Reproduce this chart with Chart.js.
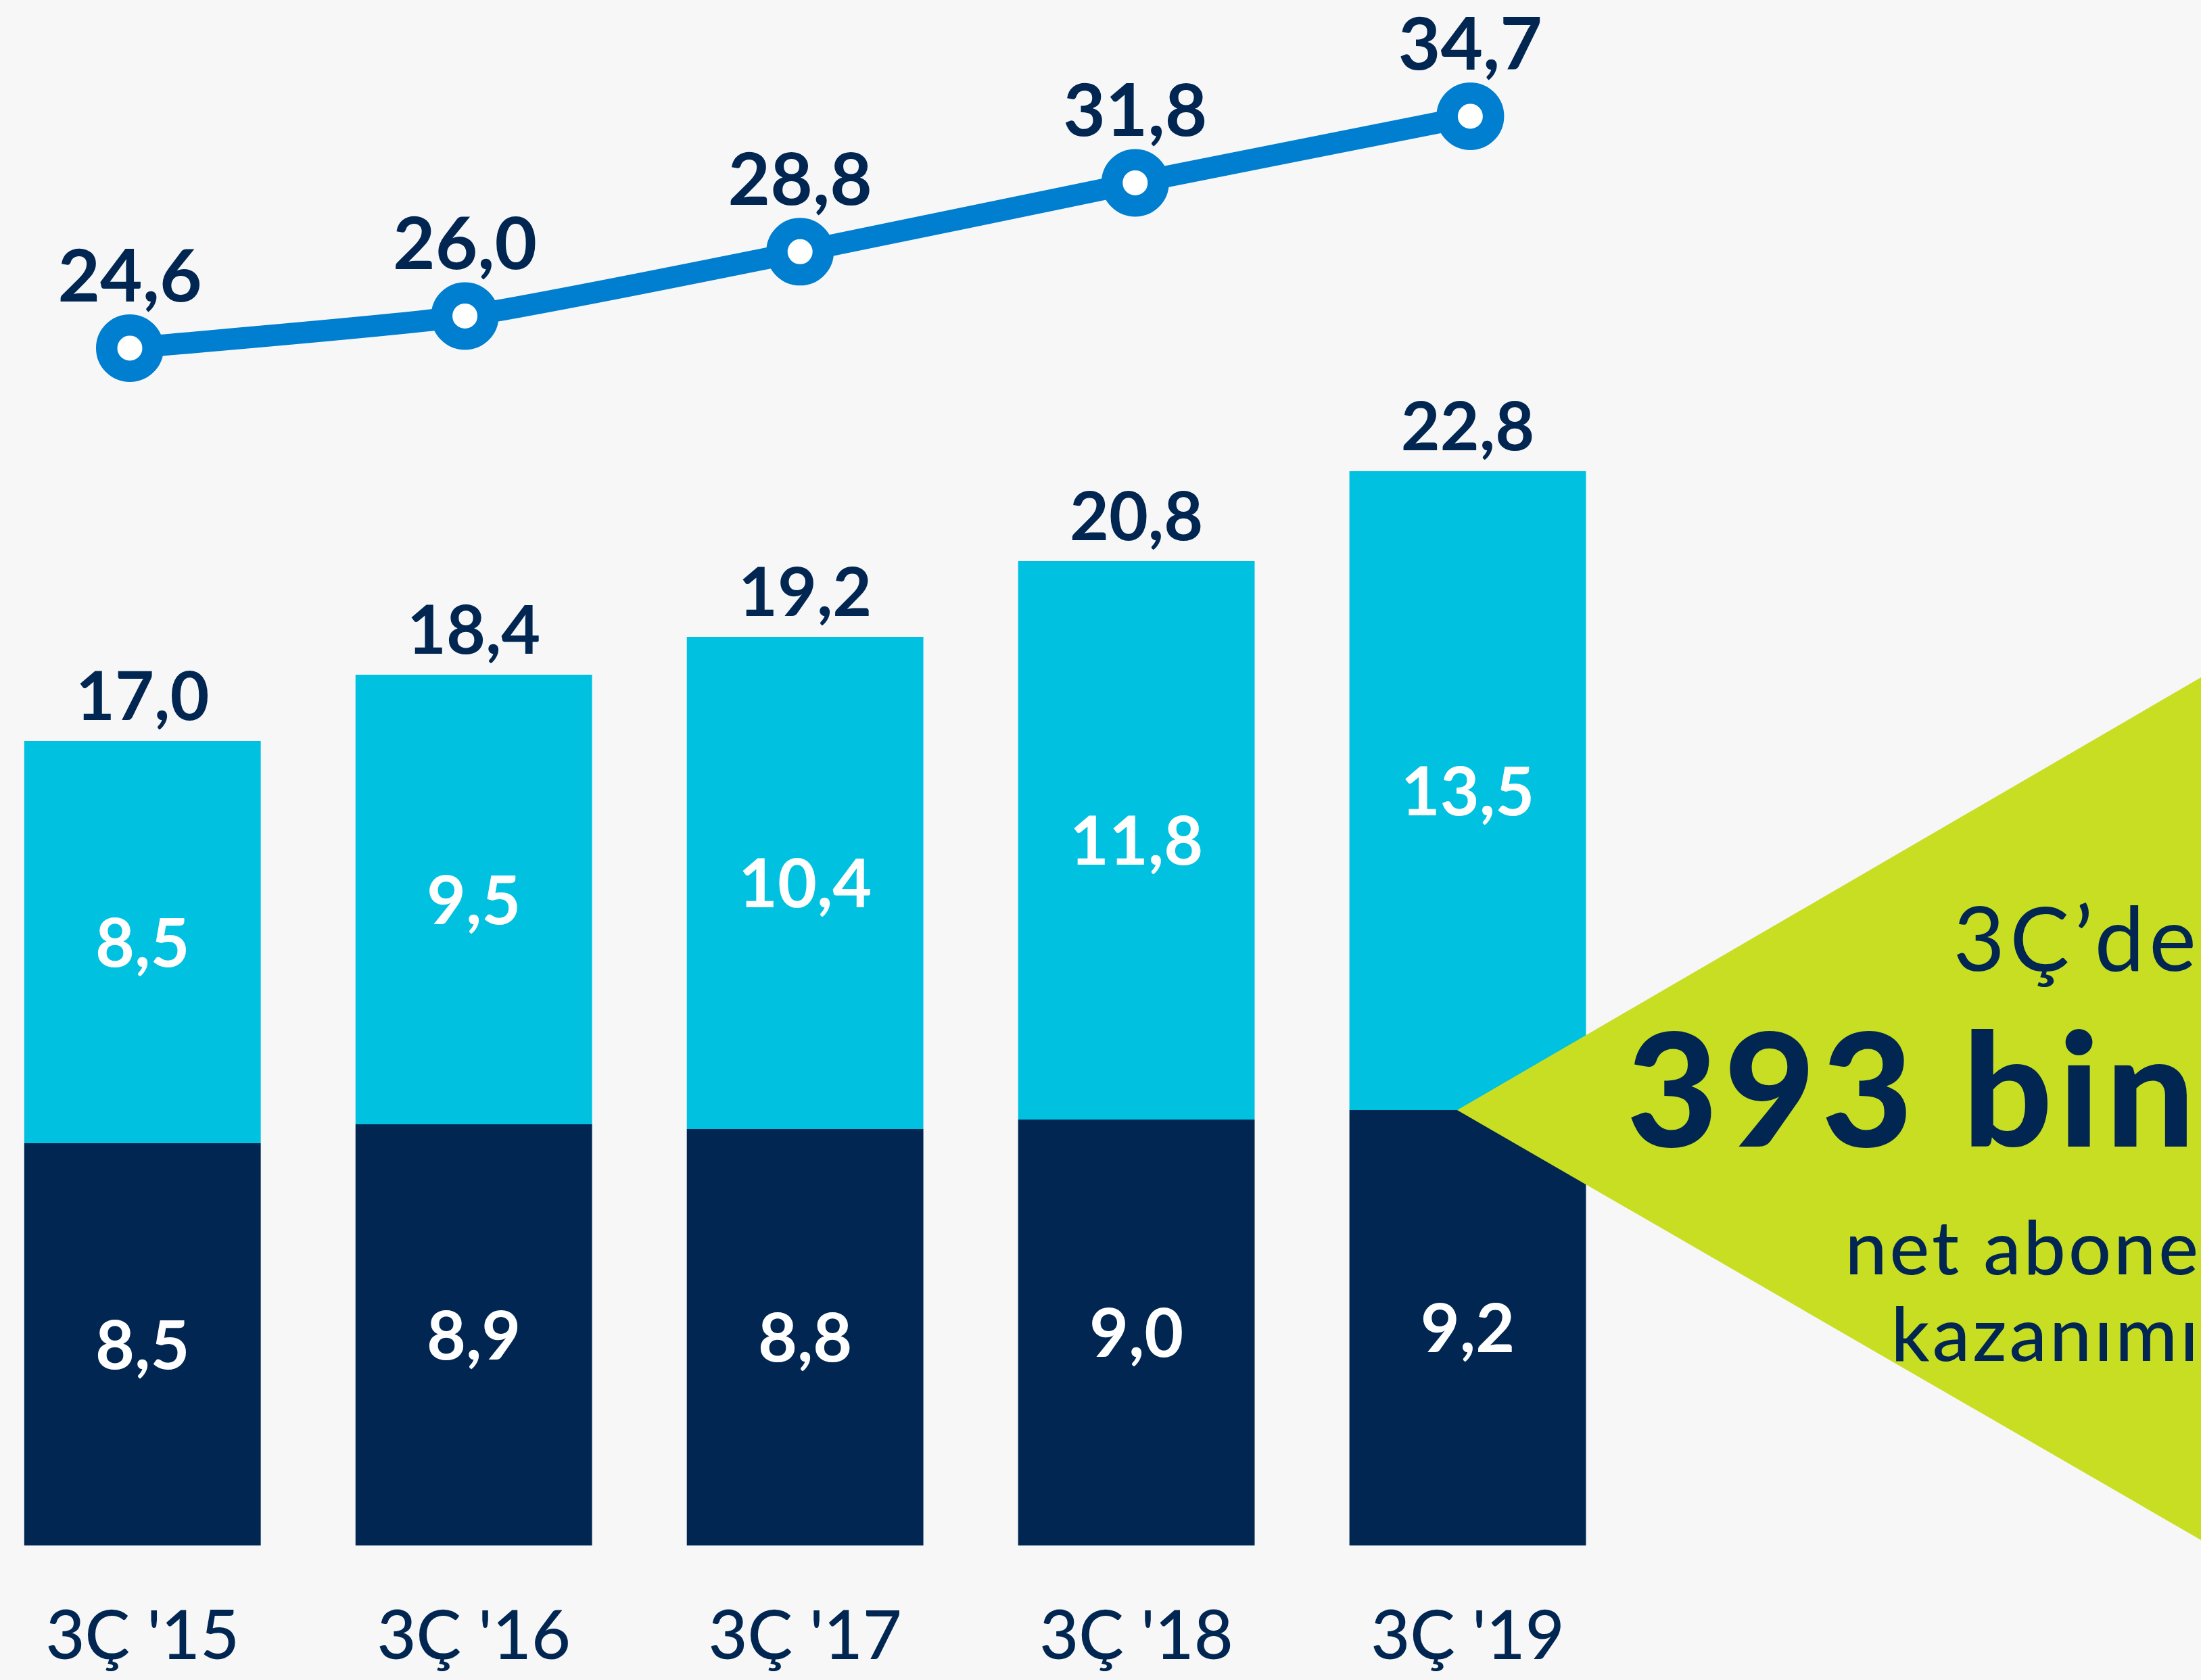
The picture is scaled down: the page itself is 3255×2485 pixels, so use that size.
<!DOCTYPE html>
<html lang="tr">
<head>
<meta charset="utf-8">
<script src="https://cdn.jsdelivr.net/npm/chart.js@4.4.1/dist/chart.umd.min.js"></script>
<style>
  html, body {
    margin: 0;
    padding: 0;
    width: 3255px;
    height: 2485px;
    overflow: hidden;
    background: #f7f7f7;
    position: relative;
    font-family: Lato, sans-serif;
  }
  #wrap {
    position: absolute;
    left: -100px;
    top: 0;
    width: 3355px;
    height: 2485px;
  }
  #callout {
    position: absolute;
    left: 0;
    top: 0;
    width: 3255px;
    height: 2485px;
    background: #c8de22;
    clip-path: polygon(2155px 1642px, 3255px 1002px, 3255px 2278px);
  }
  .txt {
    position: absolute;
    right: 0px;
    color: #012652;
    white-space: nowrap;
    line-height: 1;
  }
</style>
</head>
<body>
<div id="wrap"><canvas id="chart"></canvas></div>
<div id="callout"></div>
<div class="txt" style="top:1319px; font-size:132px; font-weight:400; letter-spacing:7px;">3Ç’de</div>
<div class="txt" style="top:1490px; font-size:233px; font-weight:900; letter-spacing:9px;">393 bin</div>
<div class="txt" style="top:1787px; font-size:111px; font-weight:500; letter-spacing:4px;">net abone</div>
<div class="txt" style="top:1915px; font-size:111px; font-weight:500; letter-spacing:4px;">kazanımı</div>

<script>
const categories = ["3Ç '15", "3Ç '16", "3Ç '17", "3Ç '18", "3Ç '19"];
const darkValues = [8.5, 8.9, 8.8, 9.0, 9.2];
const lightValues = [8.5, 9.5, 10.4, 11.8, 13.5];
const totals = [17.0, 18.4, 19.2, 20.8, 22.8];
const lineValues = [24.6, 26.0, 28.8, 31.8, 34.7];

const navy = '#012652';
const cyan = '#00c1df';
const blue = '#007ecf';

const fmt = v => v.toFixed(1).replace('.', ',');

// draws the numbers on and above the bars and over the line points
const valueLabels = {
    id: 'valueLabels',
    afterDatasetsDraw(chart) {
        const ctx = chart.ctx;
        ctx.save();
        ctx.textAlign = 'center';
        ctx.textBaseline = 'alphabetic';

        ctx.font = '700 100px Lato';
        ctx.fillStyle = '#ffffff';
        [1, 2].forEach(i => {
            chart.getDatasetMeta(i).data.forEach((bar, j) => {
                const mid = (bar.y + bar.base) / 2;
                ctx.fillText(fmt(chart.data.datasets[i].data[j]), bar.x, mid + 36);
            });
        });

        ctx.fillStyle = navy;
        chart.getDatasetMeta(2).data.forEach((bar, j) => {
            ctx.fillText(fmt(totals[j]), bar.x, bar.y - 31);
        });

        ctx.font = '700 108px Lato';
        chart.getDatasetMeta(0).data.forEach((pt, j) => {
            ctx.fillText(fmt(lineValues[j]), pt.x, pt.y - 69);
        });
        ctx.restore();
    }
};

Chart.defaults.font.family = 'Lato';

const ctx = document.getElementById('chart').getContext('2d');
new Chart(ctx, {
    type: 'bar',
    data: {
        labels: categories,
        datasets: [
            {
                type: 'line',
                label: 'line',
                data: lineValues.map((v, i) => ({ x: i, y: v })),
                xAxisID: 'x2',
                yAxisID: 'y2',
                borderColor: blue,
                borderWidth: 32,
                pointRadius: 34.25,
                pointBorderWidth: 31.5,
                pointBackgroundColor: '#ffffff',
                pointBorderColor: blue,
                tension: 0.2,
                clip: false
            },
            {
                label: 'dark',
                data: darkValues,
                backgroundColor: navy,
                stack: 'a',
                grouped: false,
                xAxisID: 'x',
                yAxisID: 'y'
            },
            {
                label: 'light',
                data: lightValues,
                backgroundColor: cyan,
                stack: 'a',
                grouped: false,
                xAxisID: 'x',
                yAxisID: 'y'
            }
        ]
    },
    options: {
        responsive: true,
        maintainAspectRatio: false,
        animation: false,
        events: [],
        categoryPercentage: 1,
        barPercentage: 0.714,
        layout: {
            padding: { left: 40, right: 839.5, top: 102, bottom: 0 }
        },
        plugins: {
            legend: { display: false },
            tooltip: { enabled: false }
        },
        scales: {
            x: {
                stacked: true,
                grid: { display: false },
                border: { display: false },
                ticks: {
                    color: navy,
                    padding: 68,
                    font: { size: 100, weight: 500 }
                },
                afterFit: scale => { scale.height = 199; }
            },
            x2: {
                type: 'linear',
                display: false,
                offset: false,
                bounds: 'data',
                min: -0.4565,
                max: 4.4865
            },
            y: {
                stacked: true,
                display: false,
                min: 0,
                max: 31.2
            },
            y2: {
                display: false,
                min: -27.55,
                max: 36.76
            }
        }
    },
    plugins: [valueLabels]
});
</script>
</body>
</html>
